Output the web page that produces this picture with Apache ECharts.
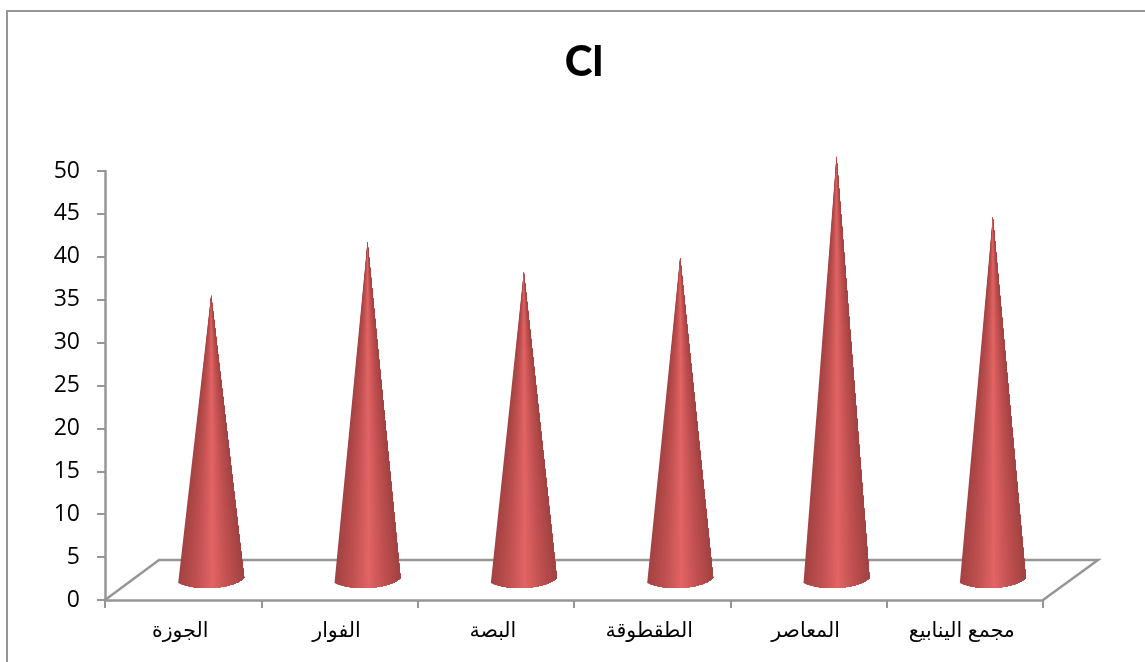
<!DOCTYPE html>
<html>
<head>
<meta charset="utf-8">
<title>Cl</title>
<script src="https://cdn.jsdelivr.net/npm/echarts@6/dist/echarts.min.js"></script>
<style>
  html, body { margin: 0; padding: 0; background: #fff; }
  #chart { width: 1145px; height: 662px; }
</style>
</head>
<body>
<div id="chart"></div>
<script>
const categories = ["الجوزة", "الفوار", "البصة", "الطقطوقة", "المعاصر", "مجمع الينابيع"];
const clValues = [33.2, 39.4, 35.9, 37.6, 49.4, 42.3];
const yTicks = { min: 0, max: 50, interval: 5 };

const axisGray = "#969696";
const coneColors = ["#a44343", "#c05050", "#e26464", "#c05050", "#a04242"];
const depthX = 28;   // cones stand in the middle of the floor
const depthY = 20;
const coneHalf = 33;
const coneSlices = 36;

const myChart = echarts.init(document.getElementById("chart"), null, { renderer: "canvas" });

function renderFloor(params, api) {
  const y0 = params.coordSys.y + params.coordSys.height;
  const x0 = params.coordSys.x;
  const x1 = x0 + params.coordSys.width;
  return {
    type: "polyline",
    shape: { points: [[x0, y0], [x0 + 54, y0 - 40], [x1 + 55, y0 - 40], [x1, y0]] },
    style: { fill: null, stroke: axisGray, lineWidth: 2.5 }
  };
}

// bottom rim of the cone, left to right
function rimPoint(cx, by, t) {
  const p0 = [cx - coneHalf, by + 3], p1 = [cx - 12, by + 12], p2 = [cx + 24, by + 8], p3 = [cx + coneHalf, by - 2];
  const u = 1 - t;
  return [
    u * u * u * p0[0] + 3 * u * u * t * p1[0] + 3 * u * t * t * p2[0] + t * t * t * p3[0],
    u * u * u * p0[1] + 3 * u * u * t * p1[1] + 3 * u * t * t * p2[1] + t * t * t * p3[1]
  ];
}

function renderCone(params, api) {
  const tip = api.coord([api.value(0), api.value(1)]);
  const base = api.coord([api.value(0), 0]);
  const cx = tip[0] + depthX;
  const tipY = tip[1] - depthY;
  const by = base[1] - depthY;
  const rim = [];
  for (let k = 0; k <= coneSlices; k++) {
    rim.push(rimPoint(cx, by, k / coneSlices));
  }
  const children = [];
  // each layer covers the rest of the cone to the right, so no seams show between colours
  for (let k = 0; k < coneSlices; k++) {
    const frac = (rim[k][0] - (cx - coneHalf)) / (2 * coneHalf);
    children.push({
      type: "polygon",
      shape: { points: [[cx, tipY]].concat(rim.slice(k)) },
      style: { fill: echarts.color.lerp(Math.max(0, Math.min(1, frac)), coneColors) }
    });
  }
  return { type: "group", children: children };
}

myChart.setOption({
  animation: false,
  backgroundColor: "#fff",
  title: {
    text: "Cl",
    left: 579,
    top: 36,
    textAlign: "center",
    textStyle: { fontFamily: "Lato", fontWeight: 900, fontSize: 42, color: "#000" }
  },
  graphic: [{
    type: "rect",
    silent: true,
    shape: { x: 7, y: 11, width: 1160, height: 680 },
    style: { fill: null, stroke: axisGray, lineWidth: 2 }
  }],
  grid: { left: 105, top: 171, width: 938, height: 429 },
  xAxis: {
    type: "category",
    data: categories,
    boundaryGap: true,
    axisLine: { lineStyle: { color: axisGray, width: 2.5 } },
    axisTick: { show: true, alignWithLabel: false, length: 8, lineStyle: { color: axisGray, width: 2 } },
    axisLabel: {
      interval: 0,
      margin: 21,
      padding: [0, 6, 0, 0],
      color: "#000",
      fontSize: 20.5,
      fontFamily: "Liberation Sans, DejaVu Sans"
    },
    splitLine: { show: false }
  },
  yAxis: {
    type: "value",
    min: yTicks.min,
    max: yTicks.max,
    interval: yTicks.interval,
    axisLine: { show: true, lineStyle: { color: axisGray, width: 2.5 } },
    axisTick: { show: true, length: 8, lineStyle: { color: axisGray, width: 2 } },
    axisLabel: { margin: 25, color: "#000", fontSize: 23, fontFamily: "Open Sans" },
    splitLine: { show: false }
  },
  series: [
    {
      type: "custom",
      name: "floor",
      renderItem: renderFloor,
      data: [[0, 0]],
      z: 1,
      silent: true
    },
    {
      type: "custom",
      name: "Cl",
      renderItem: renderCone,
      encode: { x: 0, y: 1 },
      data: clValues.map(function (v, i) { return [i, v]; }),
      clip: false,
      z: 2
    }
  ]
});
</script>
</body>
</html>
